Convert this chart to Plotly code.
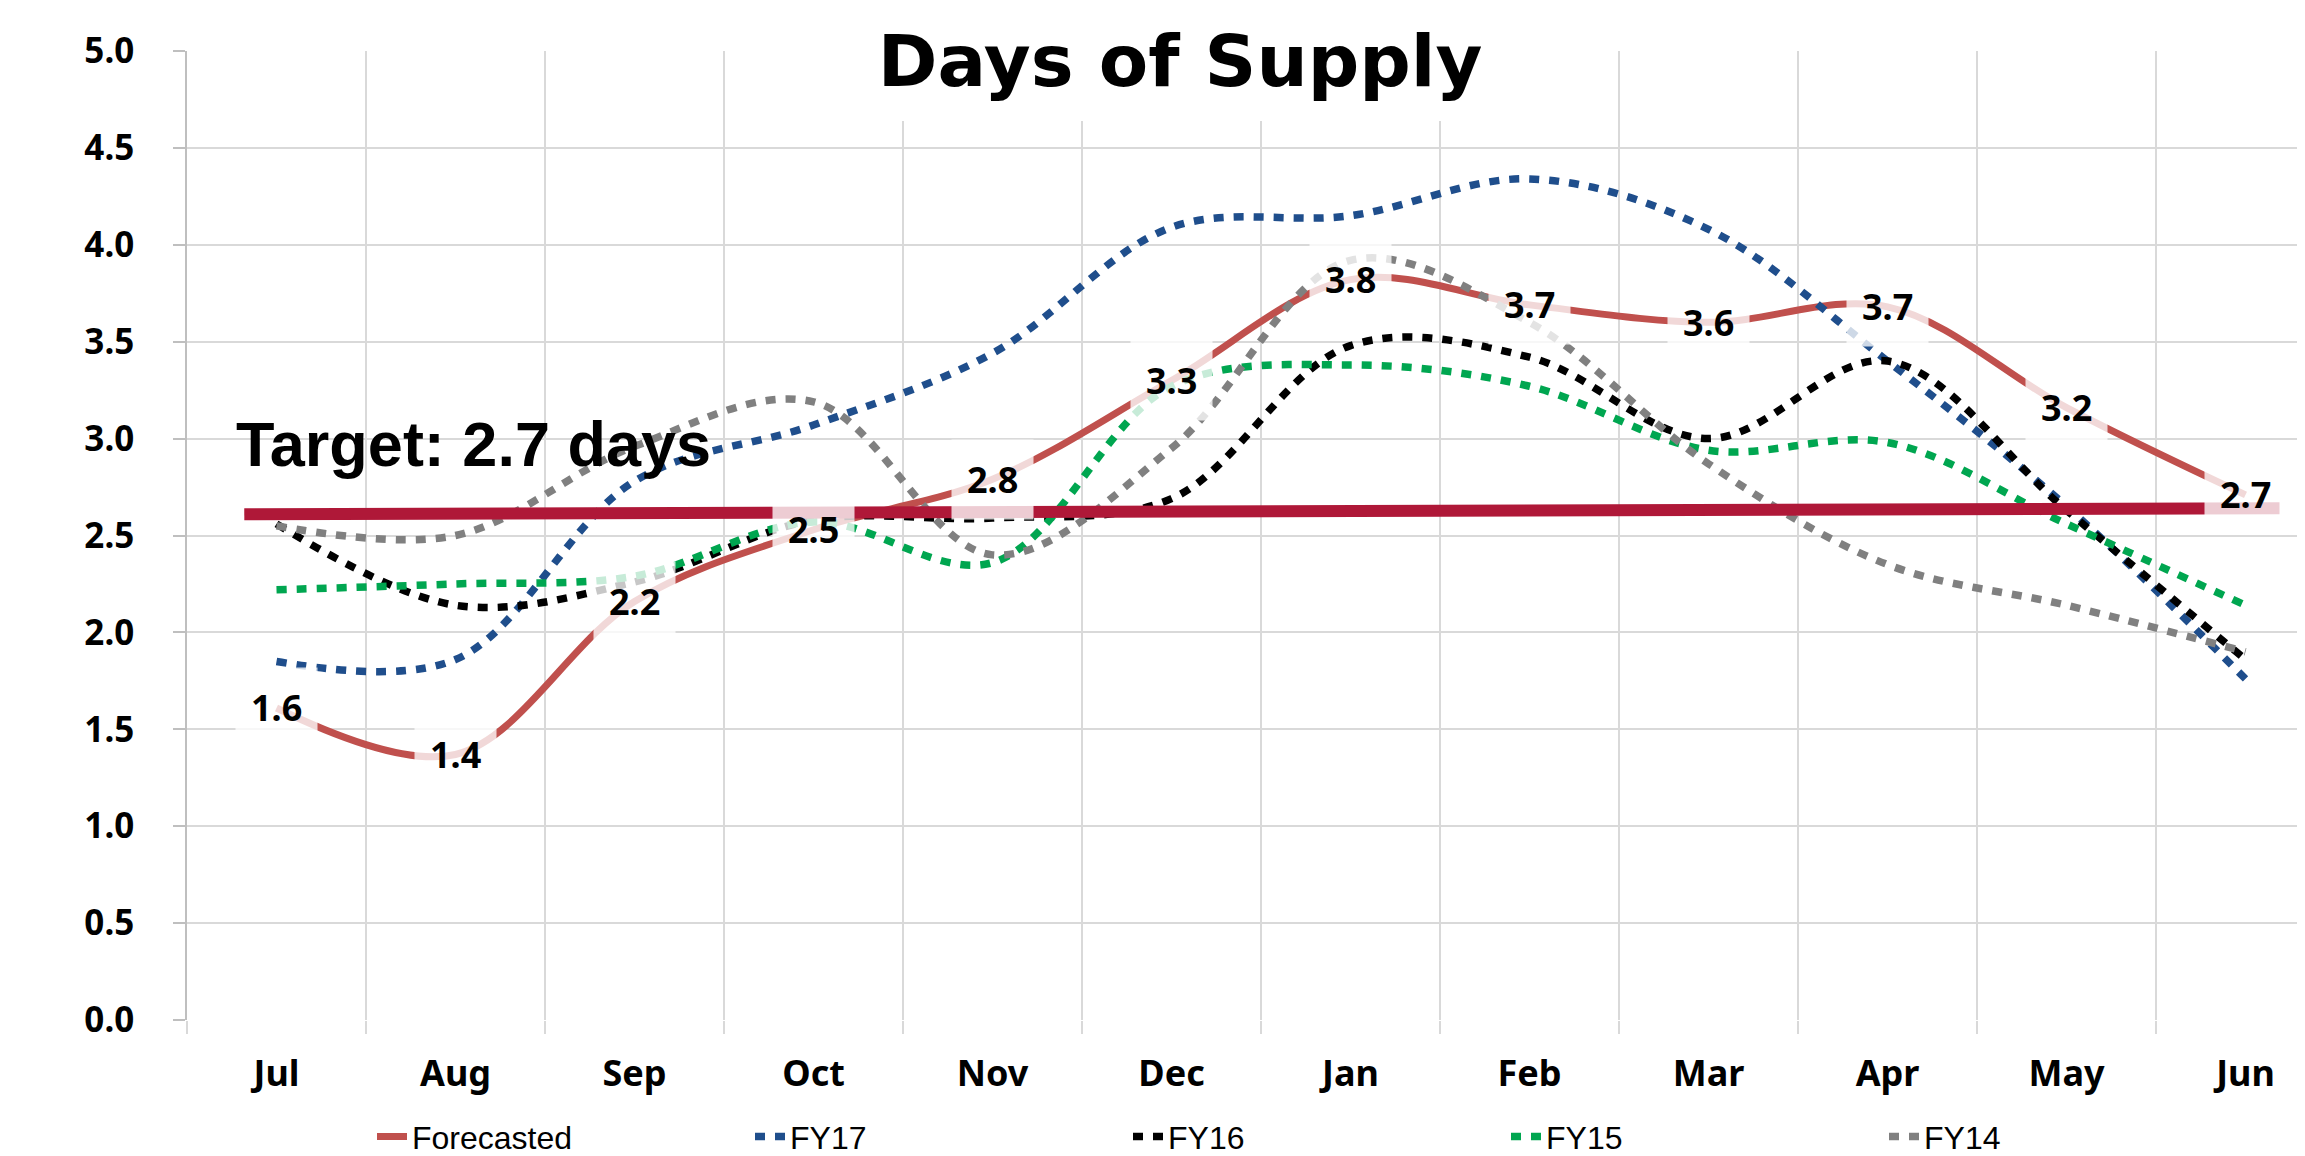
import plotly.graph_objects as go

months = ["Jul", "Aug", "Sep", "Oct", "Nov", "Dec", "Jan", "Feb", "Mar", "Apr", "May", "Jun"]
forecasted = [1.61, 1.37, 2.16, 2.53, 2.79, 3.30, 3.82, 3.69, 3.60, 3.68, 3.16, 2.71]
fy17 = [1.85, 1.86, 2.78, 3.07, 3.44, 4.09, 4.15, 4.34, 4.08, 3.40, 2.65, 1.76]
fy16 = [2.56, 2.14, 2.26, 2.58, 2.59, 2.69, 3.48, 3.42, 3.00, 3.40, 2.63, 1.86]
fy15 = [2.22, 2.25, 2.29, 2.57, 2.36, 3.27, 3.38, 3.27, 2.94, 2.98, 2.56, 2.14]
fy14 = [2.55, 2.50, 2.96, 3.19, 2.40, 2.95, 3.92, 3.60, 2.87, 2.35, 2.14, 1.90]
target_x = [-0.18, 11.19]
target_y = [2.61, 2.64]
target_label = "Target: 2.7 days"
title_text = "Days of Supply"

# page geometry (the browser body adds an 8px margin)
OFF = 8
PAGE_W, PAGE_H = 2305, 1156
W, H = PAGE_W - OFF, PAGE_H - OFF
PLOT_LEFT, PLOT_TOP, PLOT_BOTTOM = 187, 51, 1020.3   # page px
L = PLOT_LEFT - OFF
T = PLOT_TOP - OFF
B = H - (PLOT_BOTTOM - OFF)
R = 0
PW = W - L - R
PH = H - T - B
CAT = 179.0


def px_x(page_x):
    return (page_x - PLOT_LEFT) / PW


def px_y(page_y):
    return (PLOT_BOTTOM - page_y) / PH


dot = "10px,10px"
series = [
    ("Forecasted", forecasted, "#C0504D", "solid", 7),
    ("FY17", fy17, "#1F4E8C", dot, 7.5),
    ("FY16", fy16, "#000000", dot, 7.5),
    ("FY15", fy15, "#00A650", dot, 7.5),
    ("FY14", fy14, "#808080", dot, 7.5),
]

fig = go.Figure()
for name, vals, color, dash, w in series:
    fig.add_trace(go.Scatter(
        x=list(range(len(months))), y=vals, name=name, mode="lines",
        line=dict(color=color, width=w, dash=dash, shape="spline", smoothing=1.0),
        hoverinfo="skip",
    ))

fig.add_trace(go.Scatter(
    x=target_x, y=target_y, mode="lines", showlegend=False,
    line=dict(color="#AF1838", width=12), hoverinfo="skip",
))

annotations = []
for i, v in enumerate(forecasted):
    annotations.append(dict(
        x=i, y=v, xref="x", yref="y", text=f"<b>{v:.1f}</b>", showarrow=False,
        font=dict(family="Noto Sans", size=36, color="#000000"),
        bgcolor="rgba(255,255,255,0.78)", borderpad=15,
        xanchor="center", yanchor="middle",
    ))

annotations.append(dict(
    x=px_x(234), xref="paper", y=2.97, yref="y", text=f"<b>{target_label}</b>",
    showarrow=False, xanchor="left", yanchor="middle",
    font=dict(family="Liberation Sans, Arial", size=63, color="#000000"),
))

fig.update_layout(
    width=W, height=H,
    margin=dict(l=L, r=R, t=T, b=B, pad=0, autoexpand=False),
    paper_bgcolor="white", plot_bgcolor="white",
    title=dict(
        text=f"<b>{title_text}</b>", x=(1180 - OFF) / W, xanchor="center",
        y=1 - (61 - OFF) / H, yanchor="middle", xref="container", yref="container",
        font=dict(family="DejaVu Sans", size=72, color="#000000"),
    ),
    xaxis=dict(
        tickmode="array", tickvals=list(range(len(months))), ticktext=[f"<b>{m}</b>" for m in months],
        range=[-0.5, PW / CAT - 0.5],
        showgrid=False, zeroline=False, showline=False,
        ticks="", ticklen=0,
        tickfont=dict(family="Noto Sans", size=36, color="#000000"),
        ticklabelstandoff=29,
    ),
    xaxis2=dict(
        overlaying="x", range=[-0.5, PW / CAT - 0.5],
        tickmode="array", tickvals=[i + 0.5 for i in range(-1, 12)], ticktext=[""] * 13,
        showgrid=True, gridcolor="#D9D9D9", gridwidth=1.5,
        ticks="outside", ticklen=13, tickcolor="#D9D9D9", tickwidth=1.5,
        side="bottom", showline=False, zeroline=False,
    ),
    yaxis=dict(
        range=[0, 5], dtick=0.5, tickformat=".1f",
        showgrid=True, gridcolor="#D9D9D9", gridwidth=1.5,
        showline=True, linecolor="#BFBFBF", linewidth=1.5,
        ticks="outside", ticklen=12, tickcolor="#BFBFBF", tickwidth=1.5,
        tickfont=dict(family="Noto Sans", size=35, color="#000000", weight="bold"),
        ticklabelstandoff=32, zeroline=False,
    ),
    legend=dict(
        orientation="h", x=px_x(372), xanchor="left",
        y=px_y(1137), yanchor="middle",
        font=dict(family="Liberation Sans, Arial", size=32, color="#000000"),
        entrywidth=333, entrywidthmode="pixels", bgcolor="rgba(0,0,0,0)",
    ),
    shapes=[dict(
        type="rect", xref="paper", yref="paper", layer="above",
        x0=px_x(855), x1=px_x(1618), y0=px_y(121), y1=px_y(0),
        fillcolor="white", line=dict(width=0),
    )],
    annotations=annotations,
    showlegend=True,
)

fig.add_trace(go.Scatter(x=[0], y=[None], xaxis="x2", showlegend=False, hoverinfo="skip"))

fig.write_html("out.html")
